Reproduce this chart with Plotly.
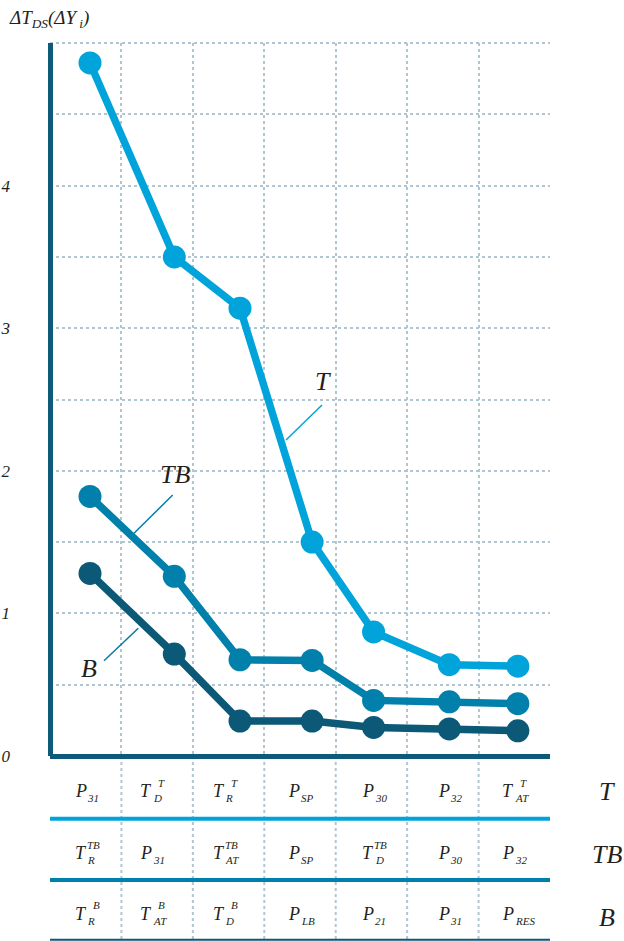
import plotly.graph_objects as go

# ---- data -------------------------------------------------------------
series_names = ["T", "TB", "B"]
x_pos = [0.56, 1.74, 2.66, 3.67, 4.53, 5.59, 6.55]
t_vals = [4.86, 3.50, 3.14, 1.50, 0.87, 0.64, 0.63]
tb_vals = [1.82, 1.26, 0.675, 0.67, 0.39, 0.38, 0.367]
b_vals = [1.28, 0.715, 0.245, 0.245, 0.20, 0.19, 0.177]

y_tick_vals = [0, 1, 2, 3, 4]
y_tick_text = ["0", "1", "2", "3", "4"]

# table rows: (base letter, subscript, superscript)
row_t = [("P", "31", ""), ("T", "D", "T"), ("T", "R", "T"), ("P", "SP", ""),
         ("P", "30", ""), ("P", "32", ""), ("T", "AT", "T")]
row_tb = [("T", "R", "TB"), ("P", "31", ""), ("T", "AT", "TB"), ("P", "SP", ""),
          ("T", "D", "TB"), ("P", "30", ""), ("P", "32", "")]
row_b = [("T", "R", "B"), ("T", "AT", "B"), ("T", "D", "B"), ("P", "LB", ""),
         ("P", "21", ""), ("P", "31", ""), ("P", "RES", "")]

# ---- styling ------------------------------------------------------------
C_T = "#00a4da"
C_TB = "#0080ab"
C_B = "#0b5877"
C_AXIS = "#0d5a79"
C_GRID = "#b1c6d2"
C_TEXT = "#231f20"
FONT = "Liberation Serif, Times New Roman, Times, serif"
DOTS = "3px,3px"

W, H = 624, 941
M_L, M_R, M_T, M_B = 50, 74, 43, 185
PLOT_H = H - M_T - M_B


def py(px):
    """pixel row -> paper y"""
    return (H - M_B - px) / PLOT_H


def pxx(px):
    """pixel column -> paper x"""
    return (px - M_L) / (W - M_L - M_R)


fig = go.Figure()

for name, vals, col in [("T", t_vals, C_T), ("TB", tb_vals, C_TB), ("B", b_vals, C_B)]:
    fig.add_trace(go.Scatter(
        x=x_pos, y=vals, name=name, mode="lines+markers",
        line=dict(color=col, width=7.5),
        marker=dict(color=col, size=23, line=dict(width=0)),
        showlegend=False, hoverinfo="skip",
    ))

# series labels with leader lines
series_labels = [
    ("T", 3.822, 2.623, (3.808, 2.461, 3.304, 2.216), C_T),
    ("TB", 1.75, 1.971, (1.718, 1.830, 1.176, 1.562), C_TB),
    ("B", 0.546, 0.617, (0.756, 0.668, 1.236, 0.896), "#0b78a2"),
]
for txt, lx, ly, (x0, y0, x1, y1), col in series_labels:
    fig.add_annotation(x=lx, y=ly, xref="x", yref="y", text=txt, showarrow=False,
                       font=dict(family=FONT, size=26, color=C_TEXT, style="italic"),
                       xanchor="center", yanchor="middle", borderpad=0, borderwidth=0)
    fig.add_shape(type="line", xref="x", yref="y", x0=x0, y0=y0, x1=x1, y1=y1,
                  line=dict(color=col, width=1.5))

# axis title
fig.add_annotation(x=pxx(9), y=py(7), xref="paper", yref="paper",
                   text="ΔT<sub>DS</sub>(ΔY<sub> i</sub>)", showarrow=False,
                   font=dict(family=FONT, size=19, color=C_TEXT, style="italic"),
                   xanchor="left", yanchor="top", borderpad=0, borderwidth=0)

# top edge of the grid
fig.add_shape(type="line", xref="paper", yref="paper", x0=0, x1=1, y0=1, y1=1,
              line=dict(color=C_GRID, width=2, dash=DOTS), layer="below")

# ---- table under the plot -------------------------------------------------
label_nudge = [1, -5, -4, 0, 3, 7, 0]
row_centers = [791, 853, 913.5]
for row, yc in zip([row_t, row_tb, row_b], row_centers):
    for i, (base, sub, sup) in enumerate(row):
        xc = i + 0.5
        dx = label_nudge[i]
        fig.add_annotation(x=xc, y=py(yc), xref="x", yref="paper", text=base,
                           showarrow=False, xanchor="right", yanchor="middle",
                           xshift=dx, borderpad=0, borderwidth=0,
                           font=dict(family=FONT, size=18, color=C_TEXT, style="italic"))
        if sub:
            fig.add_annotation(x=xc, y=py(yc), xref="x", yref="paper", text=sub,
                               showarrow=False, xanchor="left", yanchor="middle",
                               xshift=dx + 0.5, yshift=-7, borderpad=0, borderwidth=0,
                               font=dict(family=FONT, size=11, color=C_TEXT, style="italic"))
        if sup:
            fig.add_annotation(x=xc, y=py(yc), xref="x", yref="paper", text=sup,
                               showarrow=False, xanchor="right", yanchor="middle",
                               xshift=dx + 13, yshift=8.5, borderpad=0, borderwidth=0,
                               font=dict(family=FONT, size=11, color=C_TEXT, style="italic"))

# row names on the right
for name, yc in zip(series_names, [791, 854, 917]):
    fig.add_annotation(x=pxx(607), y=py(yc), xref="paper", yref="paper", text=name,
                       showarrow=False, xanchor="center", yanchor="middle",
                       borderpad=0, borderwidth=0,
                       font=dict(family=FONT, size=26, color=C_TEXT, style="italic"))

# coloured row separators
for yc, col, wdt in [(818.7, C_T, 4), (880, C_TB, 4), (939.7, C_B, 2)]:
    fig.add_shape(type="line", xref="paper", yref="paper", x0=0, x1=1,
                  y0=py(yc), y1=py(yc), line=dict(color=col, width=wdt))

# column dividers through the table
for k in range(1, 7):
    fig.add_shape(type="line", xref="x", yref="paper", x0=k, x1=k,
                  y0=0, y1=py(H), line=dict(color=C_GRID, width=2, dash=DOTS),
                  layer="below")

fig.update_xaxes(
    range=[0, 7], tickvals=list(range(0, 8)), showticklabels=False, ticks="",
    showgrid=True, gridcolor=C_GRID, gridwidth=2, griddash=DOTS,
    zeroline=True, zerolinecolor=C_AXIS, zerolinewidth=5, showline=False,
    fixedrange=True, automargin=False,
)
fig.update_yaxes(
    range=[0, 5], tickvals=y_tick_vals, ticktext=y_tick_text, ticks="",
    tickfont=dict(family=FONT, size=17, color=C_TEXT, style="italic"),
    ticklabelstandoff=39,
    showgrid=True, gridcolor=C_GRID, gridwidth=2, griddash=DOTS,
    minor=dict(dtick=0.5, showgrid=True, gridcolor=C_GRID, gridwidth=2,
               griddash=DOTS, ticks=""),
    zeroline=True, zerolinecolor=C_AXIS, zerolinewidth=5, showline=False,
    fixedrange=True, automargin=False,
)

fig.update_layout(
    width=W, height=H,
    margin=dict(l=M_L, r=M_R, t=M_T, b=M_B, pad=0, autoexpand=False),
    plot_bgcolor="white", paper_bgcolor="white",
    showlegend=False,
)

fig.write_html("out.html", config={"displayModeBar": False})
